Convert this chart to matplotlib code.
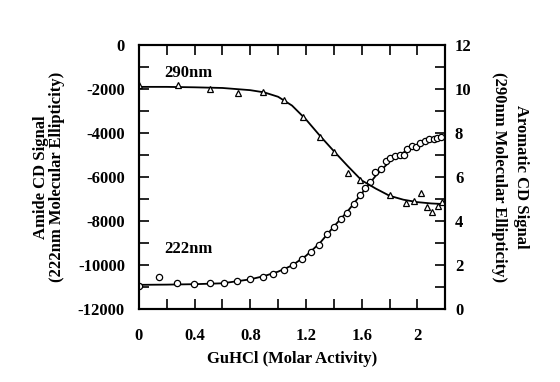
import matplotlib
matplotlib.use('Agg')
import matplotlib.pyplot as plt
from matplotlib.ticker import MultipleLocator

plt.rcParams['font.family'] = 'Liberation Serif'
plt.rcParams['font.weight'] = 'bold'
plt.rcParams['font.size'] = 12
plt.rcParams['axes.unicode_minus'] = False

# 222nm (amide, left axis) measured points
amide_x = [0, 0.144, 0.276, 0.396, 0.508, 0.61, 0.707, 0.80, 0.89, 0.966, 1.04,
           1.11, 1.175, 1.237, 1.297, 1.35, 1.40, 1.451, 1.496, 1.542, 1.585,
           1.626, 1.662, 1.698, 1.738, 1.777, 1.806, 1.842, 1.873, 1.901, 1.926,
           1.962, 1.993, 2.022, 2.053, 2.081, 2.117, 2.142, 2.169]
amide_y = [-10940, -10560, -10800, -10880, -10830, -10820, -10710, -10640, -10530,
           -10410, -10230, -10000, -9710, -9390, -9090, -8600, -8270, -7920, -7650,
           -7230, -6820, -6510, -6220, -5760, -5650, -5250, -5150, -5050, -5000,
           -5000, -4740, -4590, -4650, -4470, -4350, -4290, -4290, -4240, -4160]

# fitted 222nm curve
amide_fit_x = [0, 0.2, 0.4, 0.6, 0.8, 0.9, 1.0, 1.1, 1.2, 1.3, 1.4, 1.5, 1.6,
               1.7, 1.8, 1.9, 2.0, 2.1, 2.2]
amide_fit_y = [-10900, -10890, -10870, -10830, -10650, -10500, -10300, -10020,
               -9580, -9000, -8250, -7550, -6750, -5950, -5300, -4880, -4570,
               -4330, -4150]

# 290nm (aromatic, right axis) measured points
arom_x = [0, 0.283, 0.513, 0.714, 0.894, 1.045, 1.178, 1.30, 1.398, 1.50, 1.585,
          1.806, 1.921, 1.973, 2.027, 2.07, 2.106, 2.149, 2.178]
arom_y = [10.2, 10.2, 10.0, 9.8, 9.88, 9.49, 8.71, 7.8, 7.15, 6.2, 5.86,
          5.18, 4.8, 4.92, 5.26, 4.65, 4.42, 4.68, 4.88]

arom_fit_x = [0, 0.2, 0.4, 0.6, 0.8, 0.9, 1.0, 1.1, 1.2, 1.3, 1.4, 1.5, 1.6,
              1.7, 1.8, 1.9, 2.0, 2.1, 2.2]
arom_fit_y = [10.1, 10.1, 10.08, 10.05, 9.95, 9.85, 9.65, 9.25, 8.62, 7.88,
              7.18, 6.5, 5.85, 5.48, 5.15, 4.97, 4.86, 4.8, 4.77]

fig = plt.figure(figsize=(5.6, 3.82), dpi=100)
ax = fig.add_axes([0.248, 0.191, 0.547, 0.691])
ax2 = ax.twinx()

ax.plot(amide_fit_x, amide_fit_y, color='black', lw=1.3)
ax.plot(amide_x, amide_y, 'o', mfc='white', mec='black', ms=4.5, mew=0.9)
ax2.plot(arom_fit_x, arom_fit_y, color='black', lw=1.3)
ax2.plot(arom_x, arom_y, '^', mfc='white', mec='black', ms=5, mew=0.9)

ax.set_xlim(0, 2.2)
ax.set_ylim(-12000, 0)
ax2.set_ylim(0, 12)

ax.xaxis.set_minor_locator(MultipleLocator(0.2))
ax.yaxis.set_major_locator(MultipleLocator(2000))
ax.yaxis.set_minor_locator(MultipleLocator(1000))
ax2.yaxis.set_major_locator(MultipleLocator(2))
ax2.yaxis.set_minor_locator(MultipleLocator(1))
ax.set_xticks([0, 0.4, 0.8, 1.2, 1.6, 2.0])
ax.set_xticklabels(['0', '0.4', '0.8', '1.2', '1.6', '2'])

ax.tick_params(axis='x', which='both', direction='in', top=True, length=7, width=1.2, pad=14)
ax.tick_params(axis='y', which='both', direction='in', length=7, width=1.2, pad=10)
ax2.tick_params(axis='y', which='both', direction='in', length=7, width=1.2, pad=7)

for a in (ax, ax2):
    for s in a.spines.values():
        s.set_linewidth(1.5)

ax.text(0.18, -1270, '290nm', ha='left', va='center', fontsize=12, fontweight='bold')
ax.text(0.18, -9270, '222nm', ha='left', va='center', fontsize=12, fontweight='bold')

ax.set_xlabel('GuHCl (Molar Activity)', fontweight='bold', labelpad=5)
ax.set_ylabel('Amide CD Signal\n(222nm Molecular Ellipticity)', fontweight='bold',
              linespacing=1.05, labelpad=9)
ax2.set_ylabel('Aromatic CD Signal\n(290nm Molecular Ellipticity)', fontweight='bold',
               linespacing=1.5, rotation=270, labelpad=41)

fig.savefig('out.png', dpi=100)
